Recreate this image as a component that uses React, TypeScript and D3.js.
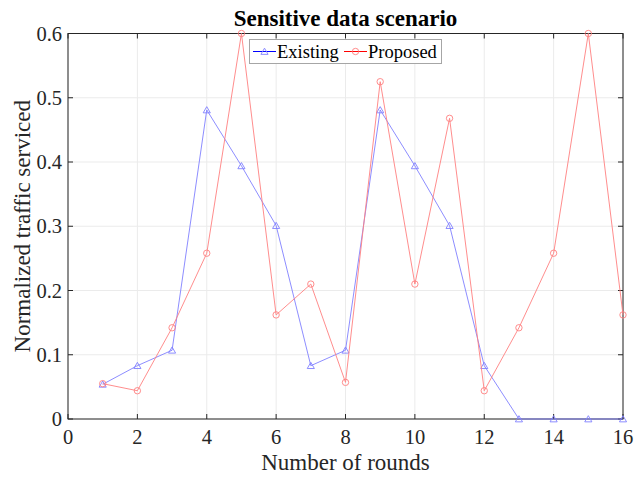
import * as d3 from 'd3';
import React, { useEffect, useRef } from 'react';

const rounds = [1, 2, 3, 4, 5, 6, 7, 8, 9, 10, 11, 12, 13, 14, 15, 16];
const existing = [0.054, 0.083, 0.107, 0.481, 0.394, 0.301, 0.083, 0.107, 0.481, 0.394, 0.301, 0.083, 0, 0, 0, 0];
const proposed = [0.055, 0.044, 0.142, 0.258, 0.6, 0.162, 0.21, 0.057, 0.525, 0.21, 0.468, 0.044, 0.142, 0.258, 0.6, 0.162];
const xTicks = [0, 2, 4, 6, 8, 10, 12, 14, 16];
const yTicks = [0, 0.1, 0.2, 0.3, 0.4, 0.5, 0.6];

const App = () => {
    const ref = useRef<SVGSVGElement | null>(null);
    const W = 641;
    const H = 478;
    const margin = { top: 33.5, right: 18, bottom: 59, left: 68 };

    useEffect(() => {
        const svg = d3.select(ref.current);
        svg.selectAll("*").remove();
        const font = "'Liberation Serif', 'Times New Roman', serif";

        const x = d3.scaleLinear().domain([0, 16]).range([margin.left, W - margin.right]);
        const y = d3.scaleLinear().domain([0, 0.6]).range([H - margin.bottom, margin.top]);
        const [x0, x1] = x.range();
        const [y0, y1] = y.range();

        svg.append("rect").attr("width", W).attr("height", H).attr("fill", "white");

        // grid
        const grid = svg.append("g").attr("stroke", "#ebebeb").attr("stroke-width", 1);
        xTicks.forEach(t => grid.append("line").attr("x1", x(t)).attr("x2", x(t)).attr("y1", y0).attr("y2", y1));
        yTicks.forEach(t => grid.append("line").attr("y1", y(t)).attr("y2", y(t)).attr("x1", x0).attr("x2", x1));

        // box + inside ticks
        const axis = svg.append("g").attr("stroke", "#262626").attr("stroke-width", 1).attr("fill", "none");
        axis.append("rect").attr("x", x0).attr("y", y1).attr("width", x1 - x0).attr("height", y0 - y1);
        xTicks.forEach(t => {
            axis.append("line").attr("x1", x(t)).attr("x2", x(t)).attr("y1", y0).attr("y2", y0 - 5);
            axis.append("line").attr("x1", x(t)).attr("x2", x(t)).attr("y1", y1).attr("y2", y1 + 5);
        });
        yTicks.forEach(t => {
            axis.append("line").attr("y1", y(t)).attr("y2", y(t)).attr("x1", x0).attr("x2", x0 + 5);
            axis.append("line").attr("y1", y(t)).attr("y2", y(t)).attr("x1", x1).attr("x2", x1 - 5);
        });

        // tick labels
        svg.append("g").selectAll("text").data(xTicks).enter().append("text")
            .attr("x", d => x(d)).attr("y", y0 + 25)
            .attr("text-anchor", "middle")
            .style("font-family", font).style("font-size", "20.5px").attr("fill", "#262626")
            .text(d => d);
        svg.append("g").selectAll("text").data(yTicks).enter().append("text")
            .attr("x", x0 - 6).attr("y", d => y(d) + 7)
            .attr("text-anchor", "end")
            .style("font-family", font).style("font-size", "20.5px").attr("fill", "#262626")
            .text(d => d === 0 ? "0" : d3.format(".1f")(d));

        // series
        const series = [
            { name: "Existing", values: existing, color: "#0000ff", light: "#8080ff", marker: "tri" },
            { name: "Proposed", values: proposed, color: "#ff0000", light: "#ff8080", marker: "circ" },
        ];
        const line = d3.line<number>().x((d, i) => x(rounds[i])).y(d => y(d));
        const tri = d3.symbol().type(d3.symbolTriangle).size(22);

        const drawMarker = (g, kind, cx, cy, color) => {
            if (kind === "tri") {
                g.append("path").attr("d", tri()).attr("transform", `translate(${cx},${cy + 0.8})`)
                    .attr("fill", "none").attr("stroke", color).attr("stroke-width", 0.9);
            } else {
                g.append("circle").attr("cx", cx).attr("cy", cy).attr("r", 3.2)
                    .attr("fill", "none").attr("stroke", color).attr("stroke-width", 0.9);
            }
        };

        series.forEach(s => {
            const g = svg.append("g");
            g.append("path").datum(s.values).attr("d", line)
                .attr("fill", "none").attr("stroke", s.light).attr("stroke-width", 0.9);
            s.values.forEach((v, i) => drawMarker(g, s.marker, x(rounds[i]), y(v), s.light));
        });

        // legend
        const lg = svg.append("g");
        lg.append("rect").attr("x", 249.5).attr("y", 39.5).attr("width", 192).attr("height", 24)
            .attr("fill", "white").attr("stroke", "#a6a6a6").attr("stroke-width", 1);
        const items = [
            { s: series[0], lx: 253, tx: 277 },
            { s: series[1], lx: 344, tx: 368 },
        ];
        items.forEach(({ s, lx, tx }) => {
            lg.append("line").attr("x1", lx).attr("x2", lx + 23).attr("y1", 51.5).attr("y2", 51.5)
                .attr("stroke", s.color).attr("stroke-width", 1);
            drawMarker(lg, s.marker, lx + 11.5, 51.5, s.light);
            lg.append("text").attr("x", tx).attr("y", 58)
                .style("font-family", font).style("font-size", "18.5px").attr("fill", "black")
                .text(s.name);
        });

        // labels
        svg.append("text").attr("x", (x0 + x1) / 2).attr("y", 26)
            .attr("text-anchor", "middle")
            .style("font-family", font).style("font-size", "23px").style("font-weight", "bold")
            .text("Sensitive data scenario");
        svg.append("text").attr("x", (x0 + x1) / 2).attr("y", 470)
            .attr("text-anchor", "middle")
            .style("font-family", font).style("font-size", "23px").attr("fill", "#262626")
            .text("Number of rounds");
        svg.append("text").attr("transform", `translate(30,${(y0 + y1) / 2}) rotate(-90)`)
            .attr("text-anchor", "middle")
            .style("font-family", font).style("font-size", "23px").attr("fill", "#262626")
            .text("Normalized traffic serviced");
    }, []);

    return (
        <svg ref={ref} width={W} height={H} style={{ position: "absolute", left: 0, top: 0 }} />
    );
};

export default App;
